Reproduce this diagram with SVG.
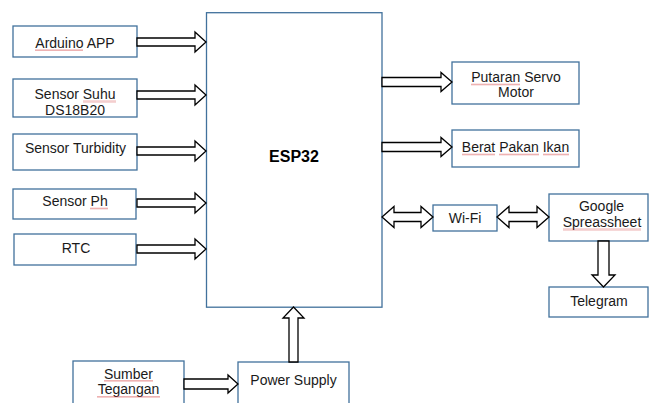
<svg xmlns="http://www.w3.org/2000/svg" width="649" height="403" viewBox="0 0 649 403">
<style>
.box{fill:#fff;stroke:#41719c;stroke-width:1.3}
.t{font-family:"Liberation Sans",Arial,sans-serif;font-size:14px;fill:#1a1a1a;text-anchor:middle}
.b{font-weight:bold;font-size:16px;fill:#000}
.ar{fill:#fff;stroke:#000;stroke-width:1.3;stroke-linejoin:miter}
.sq{fill:url(#wave)}
</style>
<defs>
<pattern id="wave" patternUnits="userSpaceOnUse" width="2" height="2">
<path d="M0,1.6 L1,0.4 L2,1.6" fill="none" stroke="#d03030" stroke-width="0.7"/>
</pattern>
</defs>
<rect width="649" height="403" fill="#fff"/>
<g id="arduino"><rect class="box" x="13" y="26" width="124" height="31"/><text class="t" x="75" y="47.5">Arduino APP</text><rect class="sq" x="35" y="49" width="48" height="2"/></g>
<g id="suhu"><rect class="box" x="13" y="79" width="124" height="38"/><text class="t" x="75" y="99">Sensor Suhu</text><text class="t" x="75" y="114.5">DS18B20</text><rect class="sq" x="83" y="100.5" width="33" height="2"/></g>
<g id="turbidity"><rect class="box" x="13" y="134" width="124" height="36"/><text class="t" x="75.5" y="153">Sensor Turbidity</text></g>
<g id="ph"><rect class="box" x="13" y="189" width="123" height="30"/><text class="t" x="75" y="206">Sensor Ph</text><rect class="sq" x="90" y="207.5" width="18" height="2"/></g>
<g id="rtc"><rect class="box" x="14" y="234" width="122" height="31"/><text class="t" x="76" y="253">RTC</text></g>
<g id="esp32"><rect class="box" x="206.5" y="12.7" width="175.5" height="294.5"/><text class="t b" x="294" y="161.5">ESP32</text></g>
<g id="servo"><rect class="box" x="452" y="62" width="127" height="42"/><text class="t" x="516" y="82">Putaran Servo</text><text class="t" x="516" y="97">Motor</text><rect class="sq" x="471" y="83.5" width="49" height="2"/></g>
<g id="pakan"><rect class="box" x="452" y="130" width="127" height="37"/><text class="t" x="515.5" y="152">Berat Pakan Ikan</text><rect class="sq" x="462" y="153.5" width="33" height="2"/><rect class="sq" x="499" y="153.5" width="40" height="2"/><rect class="sq" x="543" y="153.5" width="26" height="2"/></g>
<g id="wifi"><rect class="box" x="433" y="205" width="64" height="26"/><text class="t" x="465" y="223">Wi-Fi</text></g>
<g id="google"><rect class="box" x="549" y="194" width="99" height="47"/><text class="t" x="601.5" y="211">Google</text><text class="t" x="602" y="227">Spreassheet</text><rect class="sq" x="563" y="228.5" width="78" height="2"/></g>
<g id="telegram"><rect class="box" x="549" y="287" width="99" height="30"/><text class="t" x="599" y="306">Telegram</text></g>
<g id="sumber"><rect class="box" x="73" y="361" width="111" height="50"/><text class="t" x="128.5" y="378.5">Sumber</text><text class="t" x="128.5" y="394">Tegangan</text><rect class="sq" x="104" y="380" width="49" height="2"/><rect class="sq" x="97" y="396" width="63" height="2"/></g>
<g id="power"><rect class="box" x="238" y="362" width="111" height="50"/><text class="t" x="293.5" y="385">Power Supply</text></g>
<g id="connectors">
<polygon class="ar" points="137,38 195,38 195,32 206,42 195,52 195,46 137,46"/>
<polygon class="ar" points="137,91 195,91 195,85 206,95 195,105 195,99 137,99"/>
<polygon class="ar" points="137,147 195,147 195,141 206,151 195,161 195,155 137,155"/>
<polygon class="ar" points="137,199 195,199 195,193 206,203 195,213 195,207 137,207"/>
<polygon class="ar" points="137,245 195,245 195,239 206,249 195,259 195,253 137,253"/>
<polygon class="ar" points="382,77.5 441,77.5 441,72.5 452,82 441,91.5 441,86.5 382,86.5"/>
<polygon class="ar" points="382,142.5 441,142.5 441,137.5 452,147 441,156.5 441,151.5 382,151.5"/>
<polygon class="ar" points="382,217 394,206.5 394,212.5 421,212.5 421,206.5 433,217 421,227.5 421,221.5 394,221.5 394,227.5"/>
<polygon class="ar" points="497,217 509,206.5 509,212.5 537,212.5 537,206.5 549,217 537,227.5 537,221.5 509,221.5 509,227.5"/>
<polygon class="ar" points="598,241 609,241 609,275 615,275 603.5,287 592,275 598,275"/>
<polygon class="ar" points="184,379 228,379 228,375 238,384 228,393 228,389 184,389"/>
<polygon class="ar" points="289,362 289,318 283,318 293.5,307 304,318 298,318 298,362"/>
</g>
</svg>
